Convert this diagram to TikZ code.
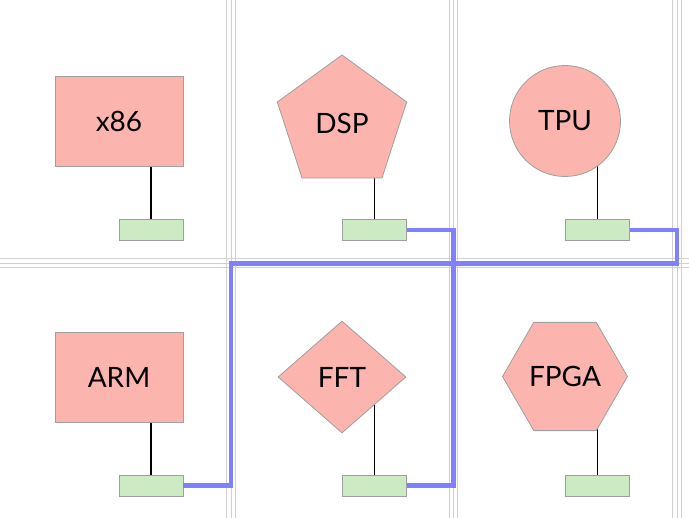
\documentclass[tikz,border=0pt]{standalone}
\usepackage{fontspec}
\setmainfont{Lato}
\usetikzlibrary{shapes.geometric,backgrounds}
\definecolor{shapefill}{HTML}{FBB4AE}
\definecolor{portfill}{HTML}{CCEBC5}
\definecolor{wire}{HTML}{8080FF}
\definecolor{gridc}{HTML}{D0D0D0}
\tikzset{
  unit/.style={fill=shapefill, draw=gray!75, line width=0.8pt, inner sep=0pt,
    font=\fontsize{28}{32}\selectfont},
  port/.style={rectangle, fill=portfill, draw=gray!75, line width=0.8pt,
    minimum width=64pt, minimum height=21pt, inner sep=0pt},
  stem/.style={black, line width=1.4pt},
  gline/.style={gridc, line width=1pt},
  bus/.style={wire, line width=4.2pt, line join=miter},
}
\begin{document}
\begin{tikzpicture}[x=1pt,y=-1pt]
\useasboundingbox (0,0) rectangle (689,518);
% grid lines
\foreach \gx in {231,453.5,677}{
  \foreach \o in {-4.2,0,4.2}{
    \draw[gline] (\gx+\o,0) -- (\gx+\o,518);
  }
}
\foreach \o in {-4.5,0,4.5}{
  \draw[gline] (0,263.5+\o) -- (689,263.5+\o);
}
\coordinate (c1) at (231,263.5);
\coordinate (c2) at (677,263.5);
\coordinate (c3) at (453.5,263.5);
% units
\node[unit, rectangle, minimum width=128pt, minimum height=90pt] (x86) at (119,121) {x86};
\node[unit, regular polygon, regular polygon sides=5, minimum size=136pt] (dsp) at (342,123) {DSP};
\node[unit, circle, minimum size=111pt] (tpu) at (565,121) {TPU};
\node[unit, rectangle, minimum width=128pt, minimum height=90pt] (arm) at (119,377) {ARM};
\node[unit, diamond, minimum width=128pt, minimum height=112pt] (fft) at (342,377) {FFT};
\node[unit, regular polygon, regular polygon sides=6, minimum size=125pt] (fpga) at (565,376.5) {FPGA};
% ports
\node[port] (p1) at (151,229.7) {};
\node[port] (p2) at (374.5,230) {};
\node[port] (p3) at (597.5,230) {};
\node[port] (p4) at (151,485.5) {};
\node[port] (p5) at (374.5,485.5) {};
\node[port] (p6) at (597.5,485.5) {};
% stems (behind shapes)
\begin{pgfonlayer}{background}
\draw[stem] (p1.north) -- (p1.north |- x86.center);
\draw[stem] (p2.north) -- (p2.north |- dsp.center);
\draw[stem] (p3.north) -- (p3.north |- tpu.center);
\draw[stem] (p4.north) -- (p4.north |- arm.center);
\draw[stem] (p5.north) -- (p5.north |- fft.center);
\draw[stem] (p6.north) -- (p6.north |- fpga.center);
\end{pgfonlayer}
% buses
\draw[bus] (p4.east) -| (c1) -- (c2) |- (p3.east);
\draw[bus] (p2.east) -| (c3) |- (p5.east);
\end{tikzpicture}
\end{document}
